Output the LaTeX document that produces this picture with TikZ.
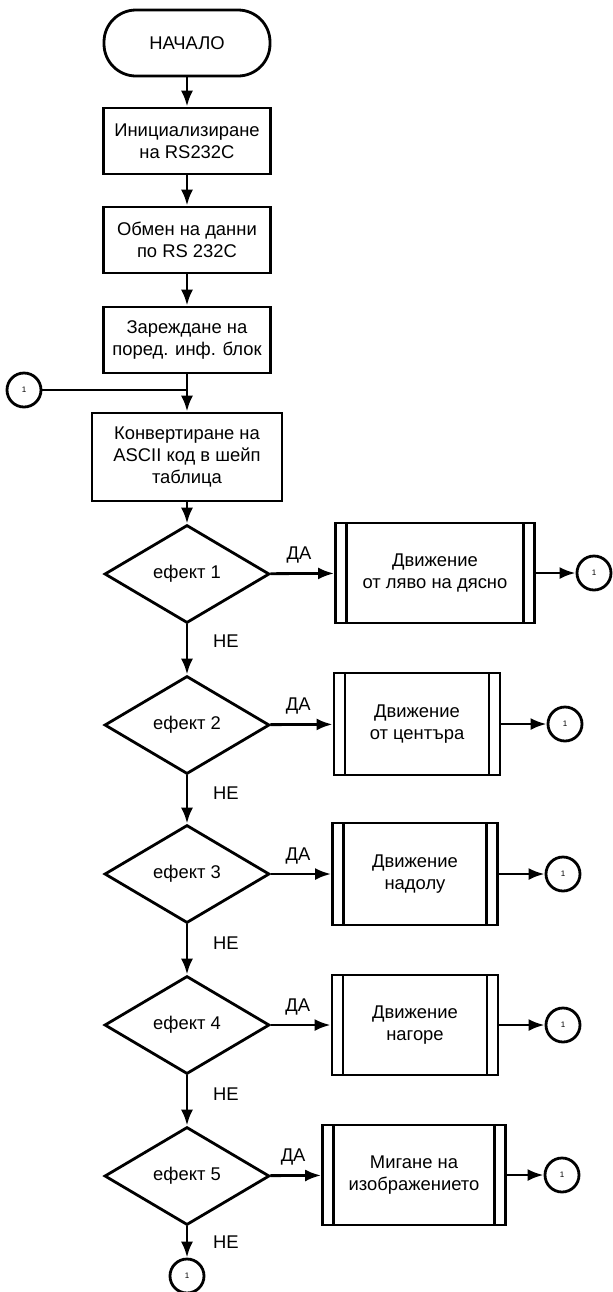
\documentclass[tikz,border=0pt]{standalone}
\usepackage{fontspec}
\setmainfont{Liberation Sans}
\usetikzlibrary{shapes.geometric,arrows.meta}
\tikzset{
  base/.style={draw,line width=1.4pt,font=\fontsize{9.2}{11}\selectfont,align=center,inner sep=2pt},
  terminal/.style={base,rectangle,rounded corners=16pt,minimum width=83pt,minimum height=33pt},
  procbox/.style={base,rectangle,minimum width=83.5pt,minimum height=33pt},
  decision/.style={base,diamond,minimum width=82.5pt,minimum height=49pt,inner sep=0pt},
  subbox/.style={base,rectangle,minimum height=50pt,
    path picture={\draw[line width=1.4pt]
      ([xshift=5.5pt]path picture bounding box.north west) -- ([xshift=5.5pt]path picture bounding box.south west)
      ([xshift=-5.5pt]path picture bounding box.north east) -- ([xshift=-5.5pt]path picture bounding box.south east);}},
  connector/.style={draw,circle,line width=1.4pt,minimum size=17pt,inner sep=0pt,font=\fontsize{4}{4}\selectfont},
  flow/.style={line width=1.4pt,-{Latex[length=8pt,width=6pt]}},
  lbl/.style={font=\fontsize{9.2}{11}\selectfont}
}

\begin{document}
\begin{tikzpicture}[x=0.5pt,y=-0.5pt]
        \useasboundingbox (0,0) rectangle (613,1292);
        % main column
        \node[terminal] (start) at (187,43) {НАЧАЛО};
        \node[procbox] (init) at (187,141) {Инициализиране\\на RS232C};
        \node[procbox] (xchg) at (187,240) {Обмен на данни\\по RS 232C};
        \node[procbox] (load) at (187,340) {Зареждане на\\поред. инф. блок};
        \node[procbox,minimum width=95pt,minimum height=44pt] (conv) at (187,457) {Конвертиране на\\ASCII код в шейп\\таблица};
        \node[connector] (c0) at (24,390) {1};
        \coordinate (join) at (187,390);
        % effects
        \node[decision] (d1) at (187,574) {ефект 1};
        \node[decision] (d2) at (187,725) {ефект 2};
        \node[decision] (d3) at (187,874) {ефект 3};
        \node[decision] (d4) at (187,1025) {ефект 4};
        \node[decision] (d5) at (187,1176) {ефект 5};
        \node[subbox,minimum width=99.5pt] (s1) at (435,573) {Движение\\от ляво на дясно};
        \node[subbox,minimum width=83pt,minimum height=51pt] (s2) at (417,724) {Движение\\от центъра};
        \node[subbox,minimum width=82.5pt,minimum height=51pt] (s3) at (415,874) {Движение\\надолу};
        \node[subbox,minimum width=83pt] (s4) at (415,1025) {Движение\\нагоре};
        \node[subbox,minimum width=91.5pt] (s5) at (414,1175) {Мигане на\\изображението};
        \node[connector] (c1) at (594,573) {1};
        \node[connector] (c2) at (565,724) {1};
        \node[connector] (c3) at (563,874) {1};
        \node[connector] (c4) at (563,1025) {1};
        \node[connector] (c5) at (562,1175) {1};
        \node[connector] (c6) at (187,1276) {1};
        % connectors
        \draw[flow] (start) -- (init);
        \draw[flow] (init) -- (xchg);
        \draw[flow] (xchg) -- (load);
        \draw[flow] (load) -- (conv);
        \draw[line width=1.4pt] (c0) -- (join);
        \draw[flow] (conv) -- (d1);
        \draw[flow] (d1) -- node[lbl,right=9pt,pos=0.33] {НЕ} (d2);
        \draw[flow] (d2) -- node[lbl,right=9pt,pos=0.37] {НЕ} (d3);
        \draw[flow] (d3) -- node[lbl,right=9pt,pos=0.37] {НЕ} (d4);
        \draw[flow] (d4) -- node[lbl,right=9pt,pos=0.37] {НЕ} (d5);
        \draw[flow] (d5) -- node[lbl,right=9pt,pos=0.5] {НЕ} (c6);
        \foreach \i in {1,...,5}{
            \draw[flow] (d\i) -- node[lbl,above=1pt,pos=0.45] {ДА} (s\i);
            \draw[flow] (s\i) -- (c\i);}
      \end{tikzpicture}
\end{document}
